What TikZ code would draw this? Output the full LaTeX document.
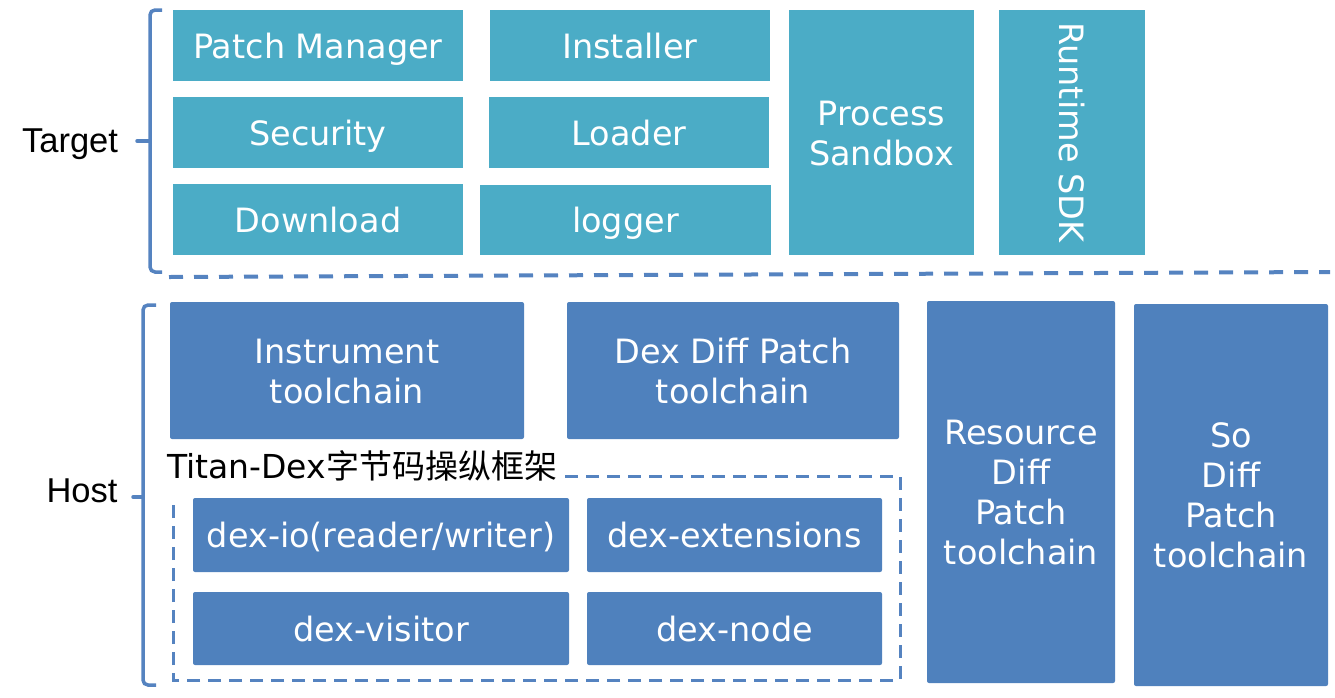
\documentclass[tikz,border=0pt]{standalone}
\usepackage{fontspec}
\setmainfont{DejaVu Sans}
\newfontfamily\cjk{Noto Sans CJK SC}
\newfontfamily\arialf{Liberation Sans}
\definecolor{teal1}{HTML}{4BACC6}
\definecolor{blue1}{HTML}{4F81BD}
\definecolor{brkc}{HTML}{5583C0}
\newcommand\bxs{\rule[-7.2pt]{0pt}{40pt}}
\tikzset{
  boxtext/.style={text=white, align=center, inner sep=0pt,
    font=\fontsize{33.5}{40}\selectfont},
  tbox/.style={boxtext, fill=teal1},
  hbox/.style={boxtext, fill=blue1, rounded corners=2pt},
  brk/.style={draw=brkc, line width=3.5pt, rounded corners=5pt},
  sepline/.style={draw=brkc, line width=4pt, dash pattern=on 14pt off 11pt},
  inbox/.style={draw=brkc, line width=3pt, dash pattern=on 13pt off 8pt},
  lbl/.style={font=\arialf\fontsize{34.5}{40}\selectfont, text=black, inner sep=0pt}
}
\begin{document}
\begin{tikzpicture}[x=1pt,y=-1pt]
\useasboundingbox (0,0) rectangle (1335,697);
% Target layer
\node[tbox, minimum width=290pt, minimum height=71pt] (pm) at (318,45.5) {\bxs Patch Manager};
\node[tbox, minimum width=290pt, minimum height=71pt] (sec) at (318,132.5) {\bxs Security};
\node[tbox, minimum width=290pt, minimum height=71pt] (dl) at (318,219.5) {\bxs Download};
\node[tbox, minimum width=280pt, minimum height=71pt] (inst) at (630,45.5) {\bxs Installer};
\node[tbox, minimum width=280pt, minimum height=71pt] (ldr) at (629,132.5) {\bxs Loader};
\node[tbox, minimum width=291pt, minimum height=70pt] (lg) at (625.5,220) {\bxs logger};
\node[tbox, minimum width=185pt, minimum height=245pt] (ps) at (881.5,132.5) {\bxs Process\\\bxs Sandbox};
\node[tbox, minimum width=146pt, minimum height=245pt] (rt) at (1072,132.5) {};
\node[boxtext, rotate=-90] (rttext) at (rt.center) {\bxs Runtime SDK};
% Host layer
\node[hbox, minimum width=354pt, minimum height=137pt] (ins) at (347,370.5) {\bxs Instrument\\\bxs toolchain};
\node[hbox, minimum width=332pt, minimum height=137pt] (ddp) at (733,370.5) {\bxs Dex Diff Patch\\\bxs toolchain};
\node[hbox, minimum width=188pt, minimum height=382pt] (res) at (1021,492) {\bxs Resource\\\bxs Diff\\\bxs Patch\\\bxs toolchain};
\node[hbox, minimum width=194pt, minimum height=382pt] (so) at (1231,495) {\bxs So\\\bxs Diff\\\bxs Patch\\\bxs toolchain};
\node[hbox, minimum width=376pt, minimum height=74pt] (dio) at (381,535) {\bxs dex-io(reader/writer)};
\node[hbox, minimum width=295pt, minimum height=74pt] (dext) at (734.5,535) {\bxs dex-extensions};
\node[hbox, minimum width=376pt, minimum height=73pt] (dvis) at (381,628.5) {\bxs dex-visitor};
\node[hbox, minimum width=295pt, minimum height=73pt] (dnode) at (734.5,628.5) {\bxs dex-node};
% Titan-Dex frame
\coordinate (fa) at (565,476);
\coordinate (fb) at (900,476);
\coordinate (fc) at (900,680);
\coordinate (fd) at (173,680);
\coordinate (fe) at (173,500);
\draw[inbox] (fa) -- (fb) -- (fc) -- (fd) -- (fe);
\node[anchor=base west, inner sep=0pt, font=\fontsize{33}{40}\selectfont] (titan) at (167,478) {Titan-Dex{\cjk 字节码操纵框架}};
% separator
\coordinate (sa) at (169,277);
\coordinate (sb) at (1330,272);
\draw[sepline] (sa) -- (sb);
% brackets
\coordinate (t1) at (162,10);
\coordinate (t2) at (150,10);
\coordinate (t3) at (150,272);
\coordinate (t4) at (162,272);
\coordinate (tm) at (150,141);
\coordinate (tp) at (137,141);
\draw[brk] (t1) -- (t2) -- (t3) -- (t4);
\draw[draw=brkc, line width=3.5pt, line cap=round] (tm) -- (tp);
\coordinate (h1) at (156,305);
\coordinate (h2) at (143,305);
\coordinate (h3) at (143,685);
\coordinate (h4) at (156,685);
\coordinate (hm) at (143,497);
\coordinate (hp) at (133,497);
\draw[brk] (h1) -- (h2) -- (h3) -- (h4);
\draw[draw=brkc, line width=3.5pt, line cap=round] (hm) -- (hp);
% labels
\node[lbl] (target) at (70,144) {Target};
\node[lbl] (host) at (82,491) {Host};
\end{tikzpicture}
\end{document}
